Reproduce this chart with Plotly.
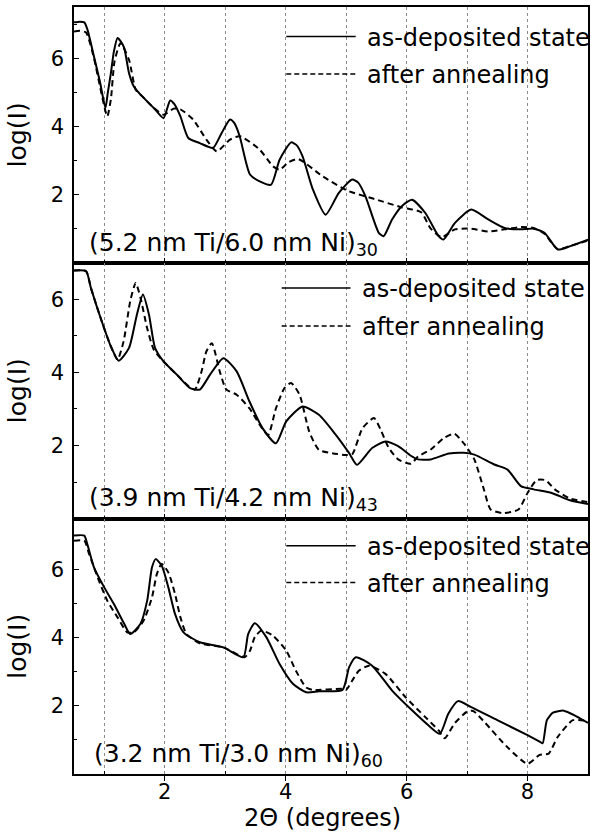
import plotly.graph_objects as go

# ---------------- data ----------------
# Panel 1: (5.2 nm Ti/6.0 nm Ni)30
p1_dep_x = [0.50, 0.60, 0.67, 0.72, 0.83, 0.93, 1.02, 1.06, 1.11, 1.16, 1.22, 1.27, 1.33, 1.41, 1.49,
            1.60, 1.82, 1.98, 2.09, 2.16, 2.26, 2.39, 2.58, 2.80, 2.94, 3.08, 3.15, 3.24, 3.41, 3.57,
            3.76, 3.90, 4.09, 4.18, 4.28, 4.45, 4.66, 4.88, 5.10, 5.20, 5.32, 5.54, 5.62, 5.76, 5.92,
            6.09, 6.31, 6.53, 6.61, 6.80, 7.07, 7.35, 7.62, 7.89, 8.10, 8.28, 8.50, 8.71, 9.00]
p1_dep_y = [7.05, 7.07, 7.05, 6.85, 6.05, 5.30, 4.54, 5.00, 5.56, 6.20, 6.59, 6.50, 6.30, 5.56, 5.17,
            4.93, 4.54, 4.24, 4.76, 4.65, 4.29, 3.66, 3.51, 3.37, 3.80, 4.20, 4.10, 3.71, 2.59, 2.39,
            2.29, 3.02, 3.53, 3.45, 3.12, 2.15, 1.41, 2.05, 2.44, 2.35, 1.95, 0.88, 0.78, 1.27, 1.66,
            1.85, 1.46, 0.78, 0.68, 1.17, 1.56, 1.27, 1.02, 0.98, 1.00, 0.88, 0.39, 0.49, 0.68]
p1_ann_x = [0.50, 0.60, 0.70, 0.83, 0.95, 1.05, 1.11, 1.17, 1.27, 1.41, 1.52, 1.60, 1.82, 1.98, 2.15,
            2.26, 2.47, 2.69, 2.86, 3.08, 3.24, 3.57, 3.79, 3.90, 4.05, 4.21, 4.60, 5.03, 5.47, 5.91,
            6.24, 6.40, 6.58, 6.80, 7.07, 7.35, 7.62, 7.89, 8.10, 8.28, 8.50, 8.71, 9.00]
p1_ann_y = [6.78, 6.80, 6.75, 6.00, 5.00, 4.29, 4.80, 5.90, 6.44, 5.95, 5.07, 4.93, 4.54, 4.34, 4.52,
            4.50, 4.20, 3.61, 3.27, 3.61, 3.71, 3.32, 2.83, 2.73, 2.95, 3.04, 2.55, 2.11, 1.87, 1.63,
            1.48, 1.00, 0.75, 0.98, 1.00, 0.92, 0.98, 1.05, 1.02, 0.85, 0.40, 0.50, 0.65]

# Panel 2: (3.9 nm Ti/4.2 nm Ni)43
p2_dep_x = [0.50, 0.70, 0.78, 0.94, 1.11, 1.24, 1.41, 1.54, 1.64, 1.74, 1.84, 1.98, 2.20, 2.42, 2.58,
            2.75, 2.97, 3.19, 3.40, 3.62, 3.84, 4.01, 4.28, 4.55, 4.83, 5.05, 5.18, 5.43, 5.65, 5.86,
            6.07, 6.19, 6.40, 6.70, 6.95, 7.12, 7.45, 7.67, 7.89, 8.10, 8.40, 8.70, 9.00]
p2_dep_y = [6.79, 6.77, 6.31, 5.49, 4.71, 4.32, 4.67, 5.58, 6.13, 5.58, 4.67, 4.30, 3.94, 3.57, 3.53,
            3.94, 4.39, 4.03, 3.21, 2.47, 2.06, 2.66, 3.07, 2.84, 2.29, 1.79, 1.47, 1.93, 2.11, 1.98,
            1.72, 1.62, 1.62, 1.78, 1.80, 1.75, 1.48, 1.34, 0.89, 0.80, 0.70, 0.50, 0.40]
p2_ann_x = [0.50, 0.70, 0.78, 0.94, 1.11, 1.22, 1.32, 1.43, 1.52, 1.60, 1.71, 1.82, 1.98, 2.20, 2.42,
            2.50, 2.61, 2.69, 2.78, 2.91, 3.02, 3.19, 3.40, 3.57, 3.71, 3.84, 3.98, 4.09, 4.23, 4.39,
            4.55, 4.77, 4.99, 5.10, 5.27, 5.46, 5.58, 5.70, 5.86, 6.07, 6.19, 6.40, 6.62, 6.79, 6.95,
            7.12, 7.28, 7.39, 7.60, 7.85, 8.00, 8.15, 8.30, 8.45, 8.70, 9.00]
p2_ann_y = [6.79, 6.77, 6.31, 5.49, 4.71, 4.35, 4.85, 5.95, 6.45, 6.04, 5.21, 4.62, 4.30, 3.94, 3.59,
            3.53, 4.03, 4.58, 4.80, 4.03, 3.53, 3.39, 3.02, 2.57, 2.29, 3.02, 3.57, 3.71, 3.39, 2.38,
            1.88, 1.79, 1.74, 1.76, 2.47, 2.75, 2.40, 1.95, 1.62, 1.50, 1.70, 1.89, 2.21, 2.32, 2.05,
            1.62, 0.79, 0.25, 0.15, 0.25, 0.70, 1.05, 1.05, 0.80, 0.55, 0.45]

# Panel 3: (3.2 nm Ti/3.0 nm Ni)60
p3_dep_x = [0.50, 0.67, 0.72, 0.83, 1.00, 1.16, 1.33, 1.43, 1.60, 1.71, 1.79, 1.85, 1.95, 2.06, 2.17,
            2.31, 2.58, 2.97, 3.30, 3.38, 3.49, 3.68, 3.90, 4.12, 4.34, 4.55, 4.94, 5.05, 5.16, 5.43,
            5.76, 6.09, 6.36, 6.55, 6.69, 6.85, 7.06, 7.50, 8.00, 8.20, 8.25, 8.32, 8.42, 8.60, 8.80, 9.00]
p3_dep_y = [7.00, 7.00, 6.75, 6.07, 5.48, 4.99, 4.41, 4.11, 4.41, 5.09, 6.07, 6.31, 6.12, 5.48, 4.70,
            4.16, 3.87, 3.72, 3.43, 4.11, 4.43, 4.02, 3.23, 2.65, 2.40, 2.43, 2.47, 3.14, 3.43, 3.18,
            2.45, 1.87, 1.43, 1.18, 1.77, 2.14, 1.97, 1.58, 1.14, 0.95, 0.90, 1.58, 1.80, 1.86, 1.70, 1.50]
p3_ann_x = [0.50, 0.67, 0.75, 0.89, 1.05, 1.22, 1.38, 1.49, 1.65, 1.79, 1.87, 1.95, 2.06, 2.17, 2.26,
            2.36, 2.58, 2.97, 3.32, 3.41, 3.49, 3.60, 3.79, 4.01, 4.17, 4.34, 4.45, 4.94, 5.00, 5.10,
            5.21, 5.38, 5.65, 5.98, 6.31, 6.53, 6.63, 6.80, 7.00, 7.10, 7.30, 7.66, 8.00, 8.20, 8.35,
            8.50, 8.75, 9.00]
p3_ann_y = [6.85, 6.85, 6.46, 5.78, 5.09, 4.60, 4.16, 4.16, 4.50, 5.19, 5.87, 6.17, 5.92, 5.29, 4.60,
            4.11, 3.84, 3.72, 3.43, 3.62, 4.02, 4.21, 4.06, 3.62, 3.03, 2.54, 2.47, 2.50, 2.47, 2.74,
            3.03, 3.18, 2.94, 2.26, 1.67, 1.28, 1.05, 1.50, 1.83, 1.85, 1.50, 0.80, 0.30, 0.56, 0.60,
            1.09, 1.58, 1.55]

sample_labels = ["(5.2 nm Ti/6.0 nm Ni)<sub>30</sub>",
                 "(3.9 nm Ti/4.2 nm Ni)<sub>43</sub>",
                 "(3.2 nm Ti/3.0 nm Ni)<sub>60</sub>"]
series_names = ["as-deposited state", "after annealing"]
y_maxes = [7.5, 7.0, 7.5]
x_range = [0.5, 9.0]
x_major = [2, 4, 6, 8]
x_minor = [1, 3, 5, 7]
y_major = [2, 4, 6]
y_minor = [1, 3, 5, 7]

# ---------------- figure ----------------
FONT = "DejaVu Sans"
panels = [(p1_dep_x, p1_dep_y, p1_ann_x, p1_ann_y),
          (p2_dep_x, p2_dep_y, p2_ann_x, p2_ann_y),
          (p3_dep_x, p3_dep_y, p3_ann_x, p3_ann_y)]
domains = [[0.6665, 1.0], [0.333, 0.6665], [0.0, 0.333]]

fig = go.Figure()
for i, (dx, dy, ax, ay) in enumerate(panels):
    n = i + 1
    xa = "x" if n == 1 else f"x{n}"
    ya = "y" if n == 1 else f"y{n}"
    fig.add_trace(go.Scatter(x=dx, y=dy, mode="lines", xaxis=xa, yaxis=ya,
                             line=dict(color="black", width=2, shape="spline", smoothing=0.6),
                             name=series_names[0], showlegend=False))
    fig.add_trace(go.Scatter(x=ax, y=ay, mode="lines", xaxis=xa, yaxis=ya,
                             line=dict(color="black", width=2, dash="6px,4px", shape="spline", smoothing=0.6),
                             name=series_names[1], showlegend=False))

layout = dict(width=591, height=834, margin=dict(l=74, r=1, t=7, b=60),
              paper_bgcolor="white", plot_bgcolor="white",
              font=dict(family=FONT, color="black", size=20), showlegend=False)

for i in range(3):
    n = i + 1
    xk = "xaxis" if n == 1 else f"xaxis{n}"
    yk = "yaxis" if n == 1 else f"yaxis{n}"
    bottom = (n == 3)
    layout[xk] = dict(domain=[0, 1], anchor="y" if n == 1 else f"y{n}", range=x_range,
                      showline=True, mirror=True, linecolor="black", linewidth=1.5,
                      tickvals=x_major, ticktext=[str(v) for v in x_major] if bottom else None,
                      showticklabels=bottom, ticks="outside" if bottom else "inside",
                      ticklen=5, tickwidth=1.2, tickcolor="black",
                      tickfont=dict(size=21, family=FONT), ticklabelstandoff=-7 if bottom else 0,
                      showgrid=True, gridcolor="#8a8a8a", griddash="dot", gridwidth=1,
                      minor=dict(tickvals=x_minor, ticks="inside", ticklen=3, tickcolor="black",
                                 showgrid=True, gridcolor="#8a8a8a", griddash="dot", gridwidth=1),
                      zeroline=False)
    if n > 1:
        layout[xk]["matches"] = "x"
    layout[yk] = dict(domain=domains[i], anchor="x" if n == 1 else f"x{n}", range=[0, y_maxes[i]],
                      showline=True, mirror=True, linecolor="black", linewidth=1.5,
                      tickvals=y_major, ticks="inside", ticklen=5, tickwidth=1.2, tickcolor="black",
                      tickfont=dict(size=21, family=FONT), ticklabelstandoff=4,
                      minor=dict(tickvals=y_minor, ticks="inside", ticklen=3, tickcolor="black"),
                      showgrid=False, zeroline=False)

fig.update_layout(**layout)

# legends drawn inside each panel
leg_pos = [  # (line x0, line x1, text x, solid y, dashed y) in axis-domain units
    (0.413, 0.548, 0.566, 0.885, 0.738),
    (0.404, 0.538, 0.556, 0.901, 0.753),
    (0.413, 0.548, 0.566, 0.894, 0.750),
]
for i, (lx0, lx1, tx, ys, yd) in enumerate(leg_pos):
    n = i + 1
    xr = "x domain" if n == 1 else f"x{n} domain"
    yr = "y domain" if n == 1 else f"y{n} domain"
    fig.add_shape(type="line", xref=xr, yref=yr, x0=lx0, x1=lx1, y0=ys, y1=ys,
                  line=dict(color="black", width=1.5))
    fig.add_shape(type="line", xref=xr, yref=yr, x0=lx0, x1=lx1, y0=yd, y1=yd,
                  line=dict(color="black", width=1.5, dash="5px,3px"))
    fig.add_annotation(xref=xr, yref=yr, x=tx, y=ys - 0.005, text=series_names[0], showarrow=False,
                       xanchor="left", yanchor="middle", font=dict(size=24, family=FONT))
    fig.add_annotation(xref=xr, yref=yr, x=tx, y=yd - 0.005, text=series_names[1], showarrow=False,
                       xanchor="left", yanchor="middle", font=dict(size=24, family=FONT))
    fig.add_annotation(xref=xr, yref=yr, x=0.025 if n < 3 else 0.035, y=0.075,
                       text=sample_labels[i], showarrow=False,
                       xanchor="left", yanchor="middle", font=dict(size=25, family=FONT))
    fig.add_annotation(xref="paper", yref=yr, x=-0.11, y=0.5, text="log(I)", textangle=-90,
                       showarrow=False, xanchor="center", yanchor="middle",
                       font=dict(size=25, family=FONT))

fig.add_annotation(xref="paper", yref="paper", x=0.483, y=-0.058, text="2\u0398 (degrees)",
                   showarrow=False, xanchor="center", yanchor="middle",
                   font=dict(size=24, family=FONT))

fig.write_html("out.html")
